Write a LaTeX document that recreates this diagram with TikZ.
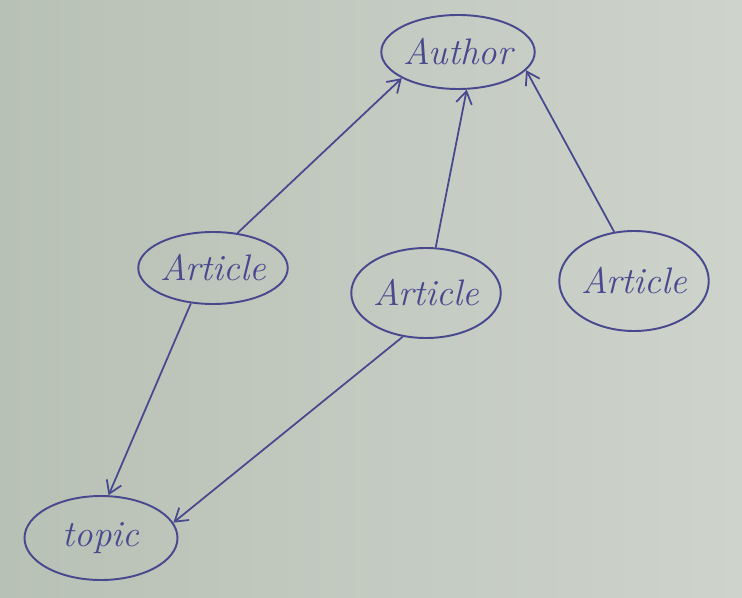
\documentclass[tikz,border=0pt]{standalone}
\usetikzlibrary{shapes.geometric,arrows.meta}
\definecolor{pen}{RGB}{72,72,142}
\definecolor{paperA}{RGB}{184,193,181}
\definecolor{paperB}{RGB}{206,211,204}
\begin{document}
\begin{tikzpicture}[x=0.02cm,y=-0.02cm,
  blob/.style={ellipse,draw=pen,line width=1.1pt,text=pen,inner sep=0pt,
    font=\fontsize{21}{21}\selectfont\itshape},
  link/.style={draw=pen,line width=1pt,-{Straight Barb[length=7pt,width=9pt]}}]
\shade[left color=paperA,right color=paperB] (0,0) rectangle (742,597);
\useasboundingbox (0,0) rectangle (742,597);
\node[blob,minimum width=130*0.02cm,minimum height=74*0.02cm] (author) at (458,52) {Author};
\node[blob,minimum width=127*0.02cm,minimum height=72*0.02cm] (art1) at (213,268) {Article};
\node[blob,minimum width=128*0.02cm,minimum height=90*0.02cm] (art2) at (426,293) {Article};
\node[blob,minimum width=135*0.02cm,minimum height=100*0.02cm] (art3) at (634,281) {Article};
\node[blob,minimum width=153*0.02cm,minimum height=84*0.02cm] (topic) at (101,538) {topic};
\draw[link] (art1.55) -- (author.205);
\draw[link] (art2.78) -- (author.283);
\draw[link] (art3.112) -- (author.345);
\draw[link] (art1.238) -- (topic.80);
\draw[link] (art2.242) -- (topic.12);
\end{tikzpicture}
\end{document}
